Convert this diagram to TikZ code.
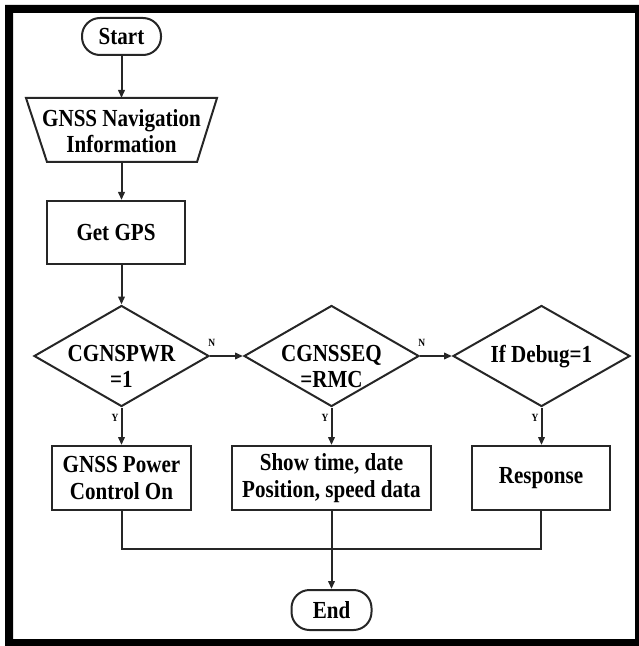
\documentclass[tikz,border=0pt]{standalone}
\usepackage{fontspec}
\setmainfont{Liberation Serif}[FakeStretch=0.86]
\usetikzlibrary{shapes.geometric,arrows.meta}
\begin{document}
\begin{tikzpicture}[x=1bp,y=-1bp,
  line/.style={draw=black!85, line width=2bp},
  arr/.style={line, -{Triangle[length=8bp,width=6.5bp]}},
  txt/.style={font=\bfseries\fontsize{24.5bp}{26.5bp}\selectfont, align=center, inner sep=0pt},
  box/.style={line, rectangle, txt, minimum height=64bp},
  term/.style={line, rectangle, rounded corners=18bp, txt},
  dec/.style={line, diamond, minimum width=175bp, minimum height=101bp, inner sep=0pt},
  yn/.style={font=\bfseries\fontsize{11bp}{12bp}\selectfont, inner sep=0pt},
]
\useasboundingbox (0,0) rectangle (639,646);
\fill[black, even odd rule] (5,5) rectangle (645,652) (13,13) rectangle (635,639);

\node[term, minimum width=79bp, minimum height=37bp] (start) at (121.5,36.5) {Start};
% input/output trapezium
\coordinate (tn) at (121.5,98);
\coordinate (ts) at (121.5,162);
\draw[line] (26,98) -- (217,98) -- (197,162) -- (47,162) -- cycle;
\node[txt] (trapt) at (121.5,131) {GNSS Navigation\\Information};
\node[box, minimum width=138bp, minimum height=63bp] (gps) at (116,232.5) {Get GPS};

\node[dec] (d1) at (121.5,356) {};
\node[dec] (d2) at (331.5,356) {};
\node[dec, minimum width=177bp] (d3) at (541.5,356) {};
\node[txt, anchor=north] (d1t) at (121.5,345) {CGNSPWR\\=1};
\node[txt, anchor=north] (d2t) at (331.5,345) {CGNSSEQ\\=RMC};
\node[txt, anchor=north] (d3t) at (541.5,345) {If Debug=1};

\node[box, minimum width=139bp] (b1) at (121.5,478) {GNSS Power\\Control On};
\node[box, minimum width=199bp] (b2) at (331.5,478) {Show time, date\\Position, speed data};
\node[box, minimum width=138bp] (b3) at (541,478) {Response};

\node[term, minimum width=80bp, minimum height=40bp] (end) at (331.5,610) {End};

\draw[arr] (start) -- (tn);
\draw[arr] (ts) -- (ts |- gps.north);
\draw[arr] (d1 |- gps.south) -- (d1.north);
\draw[arr] (d1.east) -- (d2.west);
\draw[arr] (d2.east) -- (d3.west);
\draw[arr] (d1.south) -- (b1.north);
\draw[arr] (d2.south) -- (b2.north);
\draw[arr] (d3.south) -- (d3.south |- b3.north);
\coordinate (m) at (331.5,549);
\draw[line] (b1.south) |- (m) -| (b3.south);
\draw[arr] (b2.south) -- (end.north);

\node[yn] (n1) at (211.7,343) {N};
\node[yn] (n2) at (421.7,343) {N};
\node[yn] (y1) at (115,418) {Y};
\node[yn] (y2) at (325,418) {Y};
\node[yn] (y3) at (535,418) {Y};
\end{tikzpicture}
\end{document}
